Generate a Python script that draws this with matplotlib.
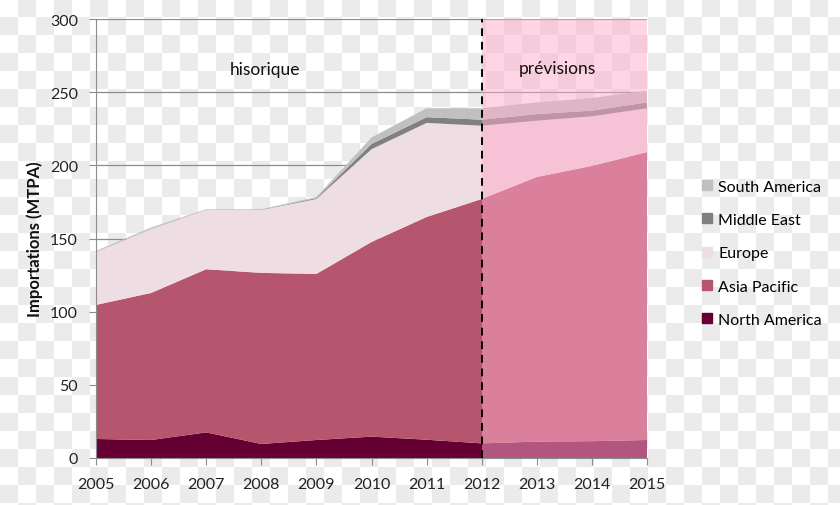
import numpy as np
import matplotlib
matplotlib.use("Agg")
import matplotlib.pyplot as plt
from matplotlib.lines import Line2D

plt.rcParams['font.family'] = ['Lato', 'DejaVu Sans']

years = [2005, 2006, 2007, 2008, 2009, 2010, 2011, 2012, 2013, 2014, 2015]
north_america = [13.0, 12.3, 17.5, 9.6, 12.3, 14.6, 12.5, 10.0, 11.2, 11.5, 12.3]
asia_pacific = [91.6, 100.5, 111.5, 116.9, 113.5, 133.0, 152.2, 167.0, 180.8, 188.1, 196.7]
europe = [36.2, 43.7, 40.5, 43.0, 51.2, 63.4, 64.3, 50.1, 38.5, 33.9, 30.0]
middle_east = [0.2, 0.2, 0.1, 0.2, 0.6, 3.6, 3.9, 4.1, 4.5, 3.9, 4.0]
south_america = [0.5, 0.8, 0.4, 0.3, 0.8, 4.4, 6.1, 7.8, 8.0, 8.6, 8.0]

series_names = ['North America', 'Asia Pacific', 'Europe', 'Middle East', 'South America']
series_colors = ['#660033', '#b5566e', '#eedde2', '#808080', '#c0c0c0']
forecast_start = 2012

W, H = 840, 506
fig = plt.figure(figsize=(W / 100, H / 100), dpi=100)
fig.patch.set_facecolor('white')

# transparency checkerboard background
sq = 18
yy, xx = np.mgrid[0:H, 0:W]
board = ((xx // sq + yy // sq) % 2).astype(float)
img = np.where(board[..., None] == 1, np.array([0.922, 0.922, 0.922]), np.array([1.0, 1.0, 1.0]))
fig.figimage(img, xo=0, yo=0, zorder=-5)

ax = fig.add_axes([96 / W, 1 - 459 / H, (647 - 96) / W, (459 - 20) / H])
ax.set_zorder(2)
ax.patch.set_alpha(0)

ax.stackplot(years, north_america, asia_pacific, europe, middle_east, south_america,
             colors=series_colors, labels=series_names, linewidth=0, zorder=2)

ax.set_xlim(2005, 2015)
ax.set_ylim(0, 300)
ax.set_yticks(range(0, 301, 50))
ax.set_xticks(years)
ax.yaxis.grid(True, color='#8c8c8c', linewidth=0.9, zorder=1)
ax.set_axisbelow(True)
for s in ['top', 'right']:
    ax.spines[s].set_visible(False)
for s in ['left', 'bottom']:
    ax.spines[s].set_color('#8c8c8c')
ax.tick_params(axis='both', colors='#8c8c8c', labelcolor='#222222', labelsize=11.5, length=5)
ax.tick_params(axis='x', pad=9)
ax.tick_params(axis='y', pad=8)
ax.set_ylabel('Importations (MTPA)', fontsize=12, fontweight='bold', color='#111111')
ax.yaxis.set_label_coords(-(96 - 43) / (647 - 96), 0.5)

# forecast overlay
ax.axvspan(forecast_start, 2015, ymin=0, ymax=1, color='#ffaacb', alpha=0.5, linewidth=0, zorder=3)
ax.axvline(forecast_start, color='black', linestyle=(0, (4, 3)), linewidth=1.4, zorder=4)

ax.text(2008.07, 265.5, 'hisorique', ha='center', va='center', fontsize=12.5, color='#111111', zorder=5)
ax.text(2013.37, 266.5, 'prévisions', ha='center', va='center', fontsize=12.5, color='#111111', zorder=5)

handles = [Line2D([0], [0], marker='s', linestyle='none', markersize=7.5,
                  markerfacecolor=c, markeredgecolor=c) for c in series_colors]
leg = fig.legend(handles[::-1], series_names[::-1], loc='upper left',
                 bbox_to_anchor=(683 / W, 1 - 166 / H), frameon=False,
                 fontsize=11.5, handletextpad=0.1, labelspacing=1.2, handlelength=1.2)
leg.set_zorder(3)

fig.savefig('out.png', dpi=100)
